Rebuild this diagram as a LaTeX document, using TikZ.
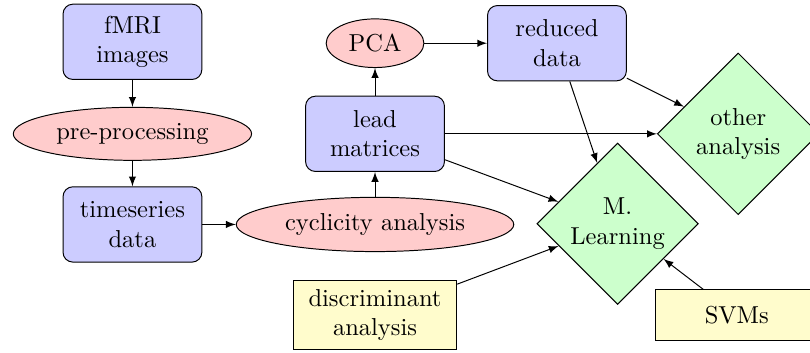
\documentclass[tikz,border=0pt]{standalone}
\usetikzlibrary{shapes.geometric,arrows.meta}

\begin{document}
\begin{tikzpicture}[
    >=latex,
    block/.style={rectangle, draw, fill=blue!20, text width=5em, align=center, rounded corners, minimum height=1.08cm},
    cloud/.style={ellipse, draw, fill=red!20},
    decision/.style={diamond, draw, fill=green!20, text width=4.5em, align=center, inner sep=0pt},
    method/.style={rectangle, draw, fill=yellow!20, text width=6em, align=center},
    line/.style={draw, ->}
]

% ========== 页面边界 ==========
\useasboundingbox (0,0) rectangle (11.62,-5.05);

% ========== 左列：数据准备 ==========
\begin{scope}
    \node[block] (fmri) at (1.9,-0.60) {fMRI images};
    \node[cloud] (pre) at (1.9,-1.92) {pre-processing};
    \node[block] (ts) at (1.9,-3.22) {timeseries data};
\end{scope}

% ========== 中列：循环性分析 ==========
\begin{scope}
    \node[cloud] (cyc) at (5.38,-3.22) {cyclicity analysis};
    \node[block] (lead) at (5.38,-1.92) {lead matrices};
    \node[cloud] (pca) at (5.38,-0.62) {PCA};
    \node[block] (red) at (7.99,-0.62) {reduced data};
    \node[method, minimum height=1.0cm] (disc) at (5.38,-4.52) {discriminant analysis};
\end{scope}

% ========== 右列：后续分析 ==========
\begin{scope}
    \node[decision] (other) at (10.59,-1.92) {other analysis};
    \node[decision] (ml) at (8.86,-3.21) {M. Learning};
    \node[method, minimum height=0.72cm] (svm) at (10.57,-4.52) {SVMs};
\end{scope}

% ========== 连线 ==========
\path[line] (fmri) -- (pre);
\path[line] (pre) -- (ts);
\path[line] (ts) -- (cyc);
\path[line] (cyc) -- (lead);
\path[line] (lead) -- (pca);
\path[line] (pca) -- (red);
\path[line] (red) -- (other);
\path[line] (red) -- (ml);
\path[line] (lead) -- (other);
\path[line] (lead) -- (ml);
\path[line] (disc) -- (ml);
\path[line] (svm) -- (ml);

\end{tikzpicture}
\end{document}
